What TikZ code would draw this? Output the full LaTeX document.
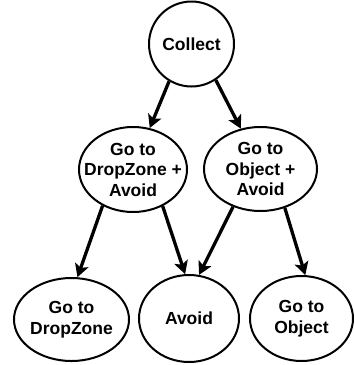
\documentclass[tikz,border=0pt]{standalone}
\usepackage{fontspec}
\setmainfont{Liberation Sans}
\usetikzlibrary{shapes.geometric,arrows.meta}
\begin{document}
\begin{tikzpicture}[x=1pt,y=-1pt,
  state/.style={ellipse,draw,line width=2pt,inner xsep=-20pt,inner ysep=-20pt,align=center,
    font=\fontsize{17.5}{20.5}\selectfont\bfseries},
  edge/.style={line width=3.3pt,-{Stealth[length=13pt,width=14pt,inset=3pt]}}]
\useasboundingbox (0,0) rectangle (354,365);
\node[state,minimum width=85pt,minimum height=85pt] (c) at (191.5,44) {Collect};
\node[state,minimum width=108pt,minimum height=85pt] (dza) at (133,169.5) {Go to\\DropZone +\\Avoid};
\node[state,minimum width=113pt,minimum height=84pt] (oa) at (260.5,169) {Go to\\Object +\\Avoid};
\node[state,minimum width=115pt,minimum height=83pt] (gdz) at (71.5,319.5) {Go to\\DropZone};
\node[state,minimum width=100pt,minimum height=87pt] (av) at (189,318.5) {Avoid};
\node[state,minimum width=103pt,minimum height=85pt] (go) at (301.5,318.5) {Go to\\Object};
\draw[edge] (c.239) -- (dza.68);
\draw[edge] (c.304) -- (oa.116);
\draw[edge] (dza.230) -- (gdz.82);
\draw[edge] (dza.309) -- (av.95);
\draw[edge] (oa.234) -- (av.77);
\draw[edge] (oa.302) -- (go.85);
\end{tikzpicture}
\end{document}
